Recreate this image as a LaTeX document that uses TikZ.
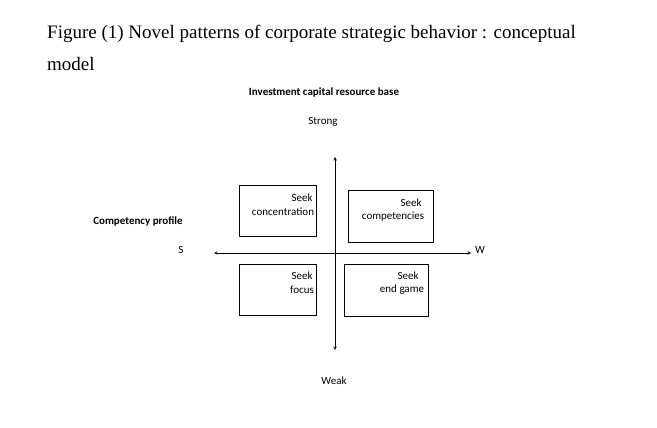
\documentclass[tikz,border=0pt]{standalone}
\usepackage{fontspec}
\setmainfont{Liberation Serif}
\newfontfamily\calfont{Carlito}
\begin{document}
\begin{tikzpicture}[x=1pt,y=-1pt,
  lab/.style={font=\calfont\fontsize{11}{13}\selectfont,inner sep=0},
  ax/.style={semithick,<->,>=stealth}]
\useasboundingbox (0,0) rectangle (657,428);
\node[anchor=base west,inner sep=0,font=\fontsize{19}{22}\selectfont] (t1) at (47,39) {Figure (1) Novel patterns of corporate strategic behavior : conceptual};
\node[anchor=base west,inner sep=0,font=\fontsize{19}{22}\selectfont] (t2) at (47,71) {model};
\node[lab,font=\calfont\bfseries\fontsize{11}{13}\selectfont] (inv) at (324,93) {Investment capital resource base};
\node[lab] (strong) at (323,122) {Strong};
\node[lab] (weak) at (334,381) {Weak};
\node[lab] (s) at (181,250) {S};
\node[lab] (w) at (480,250) {W};
\node[lab,font=\calfont\bfseries\fontsize{11}{13}\selectfont] (cp) at (138,221) {Competency profile};
\coordinate (top) at (335,157); \coordinate (bot) at (335,350);
\coordinate (lft) at (214,253); \coordinate (rgt) at (471,253);
\draw[ax] (top) -- (bot);
\draw[ax] (lft) -- (rgt);
\draw[semithick] (239,185) rectangle (316,236);
\node[lab] (a1) at (302,198) {Seek}; \node[lab] (a2) at (283,212) {concentration};
\draw[semithick] (348,190) rectangle (433,242);
\node[lab] (b1) at (411,203) {Seek}; \node[lab] (b2) at (393,217) {competencies};
\draw[semithick] (239,264) rectangle (316,315);
\node[lab] (c1) at (302,276) {Seek}; \node[lab] (c2) at (302,290) {focus};
\draw[semithick] (344,264) rectangle (428,316);
\node[lab] (d1) at (408,276) {Seek}; \node[lab] (d2) at (402,290) {end game};
\end{tikzpicture}
\end{document}
